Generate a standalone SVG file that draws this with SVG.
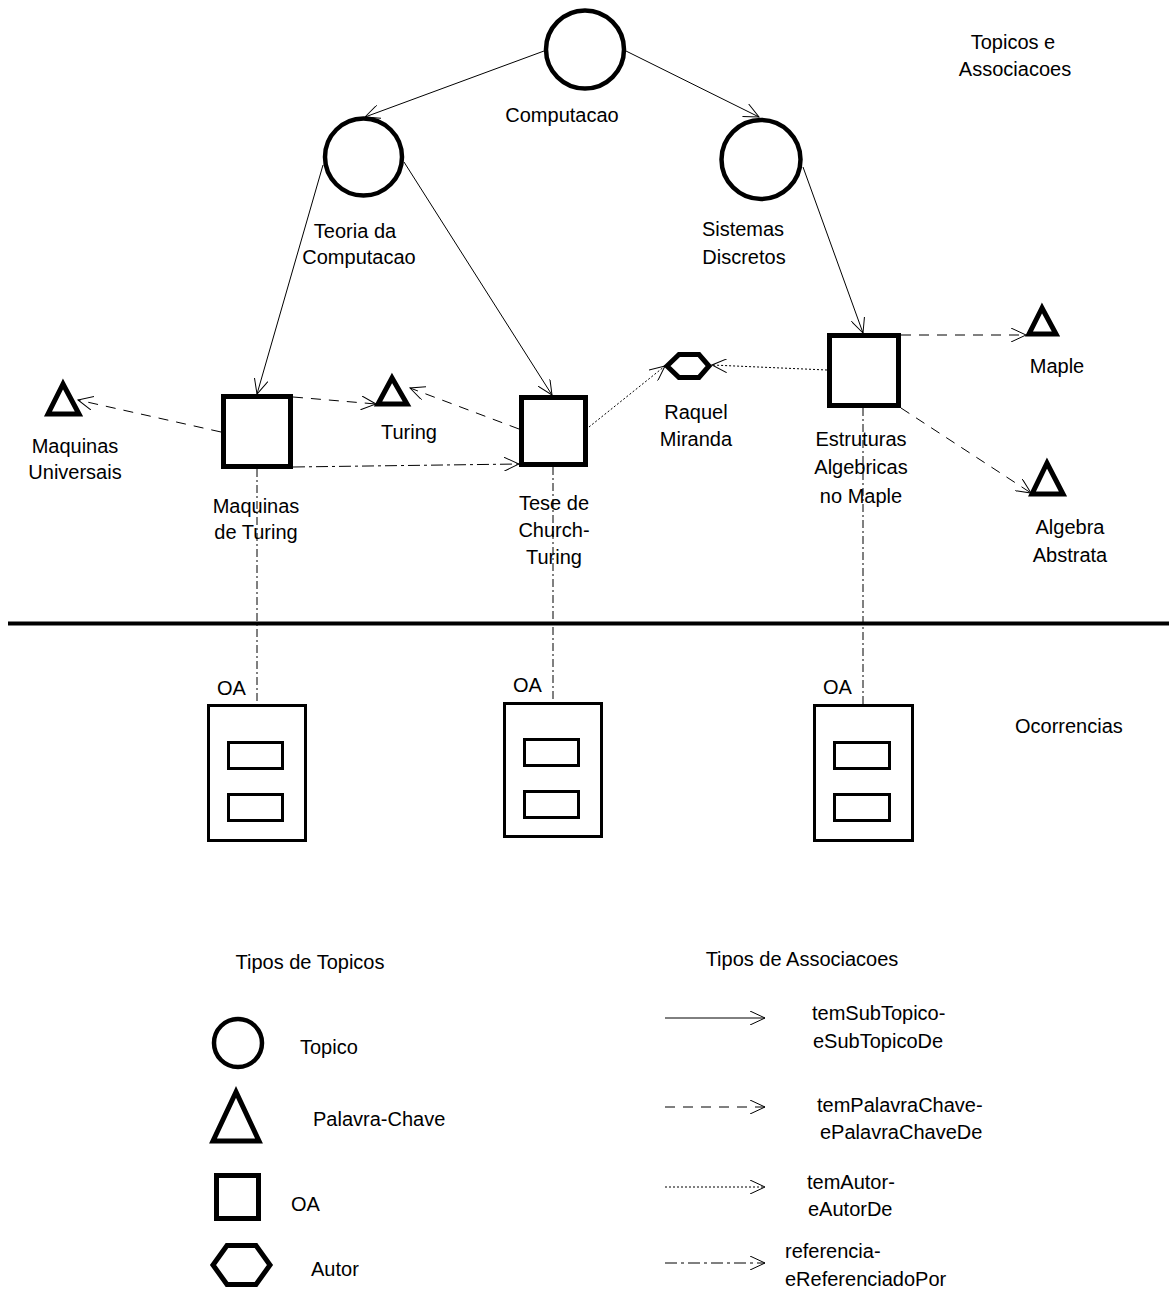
<svg xmlns="http://www.w3.org/2000/svg" width="1169" height="1292" viewBox="0 0 1169 1292">
<style>
  text { font-family: "Liberation Sans", Arial, sans-serif; font-size: 20px; fill: #000; }
  .c { text-anchor: middle; }
  .topic { fill: #fff; stroke: #000; stroke-width: 4.5; }
  .kw { fill: #fff; stroke: #000; stroke-width: 5; stroke-linejoin: miter; }
  .oa { fill: #fff; stroke: #000; stroke-width: 5; }
  .au { fill: #fff; stroke: #000; stroke-width: 5; stroke-linejoin: miter; }
  .occ { fill: #fff; stroke: #000; stroke-width: 3; }
  .ln { fill: none; stroke: #000; stroke-width: 1; }
  .solid { marker-end: url(#arr); }
  .dash { stroke-dasharray: 10 8; marker-end: url(#arr); }
  .dot { stroke-dasharray: 2 2; marker-end: url(#arr); }
  .dashdot { stroke-dasharray: 12 4 3 4; marker-end: url(#arr); }
  .vref { stroke-dasharray: 8 3 2 3; }
</style>
<defs>
  <marker id="arr" markerUnits="userSpaceOnUse" viewBox="0 0 16 14" refX="15" refY="7" markerWidth="16" markerHeight="14" orient="auto">
    <path d="M0,0 L15,7 L0,14" fill="none" stroke="#000" stroke-width="1" stroke-dasharray="none"/>
  </marker>
</defs>
<rect width="1169" height="1292" fill="#fff"/>

<g id="connectors">
  <line class="ln solid" x1="544" y1="51" x2="365" y2="117"/>
  <line class="ln solid" x1="626" y1="51" x2="759" y2="117"/>
  <line class="ln solid" x1="323" y1="165" x2="257" y2="394"/>
  <line class="ln solid" x1="404" y1="162" x2="552" y2="395"/>
  <line class="ln solid" x1="803" y1="167" x2="863" y2="333"/>
  <line class="ln dash" x1="221" y1="432" x2="78" y2="400"/>
  <line class="ln dash" x1="293" y1="397" x2="376" y2="404"/>
  <line class="ln dash" x1="519" y1="429" x2="410" y2="388"/>
  <line class="ln dashdot" x1="293" y1="467" x2="519" y2="464"/>
  <line class="ln dot" x1="589" y1="427" x2="665" y2="366"/>
  <line class="ln dot" x1="827" y1="370" x2="712" y2="365"/>
  <line class="ln dash" x1="901" y1="335" x2="1026" y2="335"/>
  <line class="ln dash" x1="901" y1="408" x2="1031" y2="493"/>
  <line class="ln vref" x1="257" y1="469" x2="257" y2="704"/>
  <line class="ln vref" x1="553" y1="467" x2="553" y2="702"/>
  <line class="ln vref" x1="863" y1="408" x2="863" y2="704"/>
</g>

<g id="title">
  <text class="c" x="1013" y="49">Topicos e</text>
  <text class="c" x="1015" y="76">Associacoes</text>
</g>

<g id="computacao">
  <circle class="topic" cx="585" cy="49.5" r="39"/>
  <text class="c" x="562" y="122">Computacao</text>
</g>
<g id="teoria">
  <circle class="topic" cx="363.5" cy="157" r="38.5"/>
  <text class="c" x="355" y="238">Teoria da</text>
  <text class="c" x="359" y="264">Computacao</text>
</g>
<g id="sistemas">
  <circle class="topic" cx="761" cy="159.5" r="39.5"/>
  <text class="c" x="743" y="236">Sistemas</text>
  <text class="c" x="744" y="264">Discretos</text>
</g>

<g id="maquinas-universais">
  <polygon class="kw" points="63,384 48,414 79,414"/>
  <text class="c" x="75" y="453">Maquinas</text>
  <text class="c" x="75" y="479">Universais</text>
</g>
<g id="maquinas-turing">
  <rect class="oa" x="223.5" y="396.5" width="67" height="70"/>
  <text class="c" x="256" y="513">Maquinas</text>
  <text class="c" x="256" y="539">de Turing</text>
</g>
<g id="turing">
  <polygon class="kw" points="392,378 378,404 407,404"/>
  <text class="c" x="409" y="439">Turing</text>
</g>
<g id="tese">
  <rect class="oa" x="521.5" y="397.5" width="64" height="67"/>
  <text class="c" x="554" y="510">Tese de</text>
  <text class="c" x="554" y="537">Church-</text>
  <text class="c" x="554" y="564">Turing</text>
</g>
<g id="raquel">
  <polygon class="au" points="667,366 679,354.5 699,354.5 709,366 699,377.5 679,377.5"/>
  <text class="c" x="696" y="419">Raquel</text>
  <text class="c" x="696" y="446">Miranda</text>
</g>
<g id="estruturas">
  <rect class="oa" x="829.5" y="335.5" width="69" height="70"/>
  <text class="c" x="861" y="446">Estruturas</text>
  <text class="c" x="861" y="474">Algebricas</text>
  <text class="c" x="861" y="503">no Maple</text>
</g>
<g id="maple">
  <polygon class="kw" points="1042,308 1029,334 1056,334"/>
  <text class="c" x="1057" y="373">Maple</text>
</g>
<g id="algebra">
  <polygon class="kw" points="1047,463 1032,494 1063,494"/>
  <text class="c" x="1070" y="534">Algebra</text>
  <text class="c" x="1070" y="562">Abstrata</text>
</g>

<g id="divider">
  <line x1="8" y1="623.5" x2="1169" y2="623.5" stroke="#000" stroke-width="4"/>
</g>

<g id="oa1">
  <text x="217" y="695">OA</text>
  <rect class="occ" x="208.5" y="705.5" width="97" height="135"/>
  <rect class="occ" x="228.5" y="742.5" width="54" height="26"/>
  <rect class="occ" x="228.5" y="794.5" width="54" height="26"/>
</g>
<g id="oa2">
  <text x="513" y="692">OA</text>
  <rect class="occ" x="504.5" y="703.5" width="97" height="133"/>
  <rect class="occ" x="524.5" y="739.5" width="54" height="26"/>
  <rect class="occ" x="524.5" y="791.5" width="54" height="26"/>
</g>
<g id="oa3">
  <text x="823" y="694">OA</text>
  <rect class="occ" x="814.5" y="705.5" width="98" height="135"/>
  <rect class="occ" x="834.5" y="742.5" width="55" height="26"/>
  <rect class="occ" x="834.5" y="794.5" width="55" height="26"/>
</g>
<g id="ocorrencias">
  <text x="1015" y="733">Ocorrencias</text>
</g>

<g id="legend-topicos">
  <text class="c" x="310" y="969">Tipos de Topicos</text>
  <circle class="topic" cx="238" cy="1043" r="24"/>
  <text x="300" y="1054">Topico</text>
  <polygon class="kw" points="236,1092 213,1141 259,1141"/>
  <text x="313" y="1126">Palavra-Chave</text>
  <rect class="oa" x="216.5" y="1175.5" width="42" height="43"/>
  <text x="291" y="1211">OA</text>
  <polygon class="au" points="213,1265 227,1245.5 256,1245.5 270,1265 256,1284.5 227,1284.5"/>
  <text x="311" y="1276">Autor</text>
</g>

<g id="legend-associacoes">
  <text class="c" x="802" y="966">Tipos de Associacoes</text>
  <line class="ln solid" x1="665" y1="1018" x2="765" y2="1018"/>
  <text x="812" y="1020">temSubTopico-</text>
  <text x="813" y="1048">eSubTopicoDe</text>
  <line class="ln dash" x1="665" y1="1107" x2="765" y2="1107"/>
  <text x="817" y="1112">temPalavraChave-</text>
  <text x="820" y="1139">ePalavraChaveDe</text>
  <line class="ln dot" x1="665" y1="1187" x2="765" y2="1187"/>
  <text x="807" y="1189">temAutor-</text>
  <text x="808" y="1216">eAutorDe</text>
  <line class="ln dashdot" x1="665" y1="1263" x2="765" y2="1263"/>
  <text x="785" y="1258">referencia-</text>
  <text x="785" y="1286">eReferenciadoPor</text>
</g>
</svg>
